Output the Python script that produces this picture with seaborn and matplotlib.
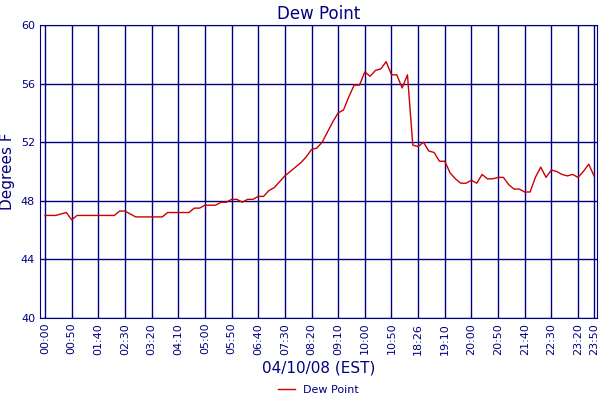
import matplotlib
matplotlib.use("Agg")
import matplotlib.pyplot as plt
import seaborn as sns
import pandas as pd

values = [47.0, 47.0, 47.0, 47.1, 47.2, 46.7, 47.0, 47.0, 47.0, 47.0,
          47.0, 47.0, 47.0, 47.0, 47.3, 47.3, 47.1, 46.9, 46.9, 46.9,
          46.9, 46.9, 46.9, 47.2, 47.2, 47.2, 47.2, 47.2, 47.5, 47.5,
          47.7, 47.7, 47.7, 47.9, 47.9, 48.1, 48.1, 47.9, 48.1, 48.1,
          48.3, 48.3, 48.7, 48.9, 49.3, 49.7, 50.0, 50.3, 50.6, 51.0,
          51.5, 51.6, 52.0, 52.7, 53.4, 54.0, 54.2, 55.1, 55.9, 55.9,
          56.8, 56.5, 56.9, 57.0, 57.5, 56.6, 56.6, 55.7, 56.6, 51.8,
          51.7, 52.0, 51.4, 51.3, 50.7, 50.7, 49.9, 49.5, 49.2, 49.2,
          49.4, 49.2, 49.8, 49.5, 49.5, 49.6, 49.6, 49.1, 48.8, 48.8,
          48.6, 48.6, 49.6, 50.3, 49.6, 50.1, 50.0, 49.8, 49.7, 49.8,
          49.6, 50.0, 50.5, 49.7]
tick_labels = ["00:00", "00:50", "01:40", "02:30", "03:20", "04:10", "05:00",
               "05:50", "06:40", "07:30", "08:20", "09:10", "10:00", "10:50",
               "18:26", "19:10", "20:00", "20:50", "21:40", "22:30", "23:20", "23:50"]
tick_pos = list(range(0, 101, 5)) + [103]

df = pd.DataFrame({"idx": range(len(values)), "Dew Point": values})
navy = "#000080"

fig = plt.figure(figsize=(6, 4), dpi=100)
ax = fig.add_axes([0.0667, 0.205, 0.9283, 0.7325])
sns.lineplot(data=df, x="idx", y="Dew Point", color="#cc0000", linewidth=1, ax=ax, label="Dew Point")
ax.set_xlim(-0.94, 103.56)
ax.set_ylim(40, 60)
ax.set_yticks(range(40, 61, 4))
ax.set_xticks(tick_pos)
ax.set_xticklabels(tick_labels, rotation=90)
ax.grid(True, color=navy, linewidth=1)
ax.tick_params(colors=navy, labelsize=8, length=0, labelcolor=navy)
for s in ax.spines.values():
    s.set_color(navy)
ax.set_title("Dew Point", color=navy, fontsize=12, pad=4)
ax.set_ylabel("Degrees F", color=navy, fontsize=11)
ax.set_xlabel("04/10/08 (EST)", color=navy, fontsize=11, labelpad=4)
leg = ax.legend(loc="center", bbox_to_anchor=(0.5, -0.245), frameon=False, fontsize=8,
                handlelength=1.5, borderpad=0.1)
for t in leg.get_texts():
    t.set_color(navy)
fig.savefig("out.png", dpi=100)
